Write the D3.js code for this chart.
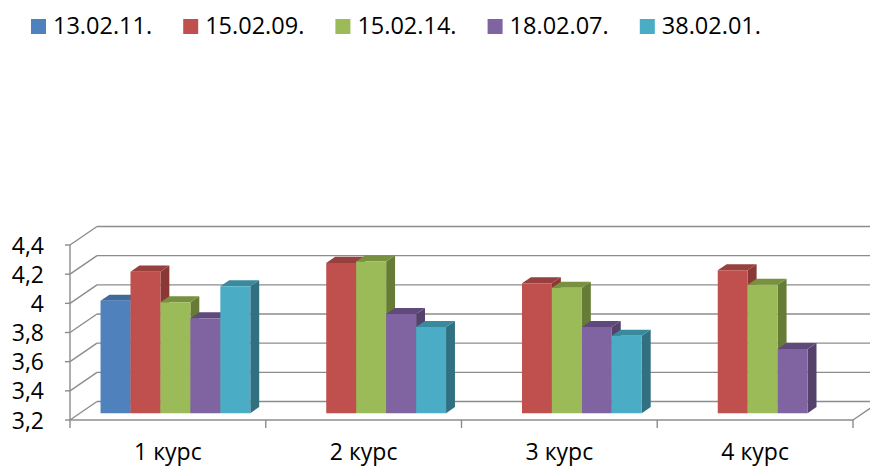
<!DOCTYPE html>
<html><head><meta charset="utf-8">
<script src="https://cdn.jsdelivr.net/npm/d3@7"></script>
<style>html,body{margin:0;padding:0;background:#fff;}svg{display:block;}</style>
</head><body>
<svg id="chart" width="870" height="466"></svg>
<script>
const categories = ["1 курс", "2 курс", "3 курс", "4 курс"];
const seriesNames = ["13.02.11.", "15.02.09.", "15.02.14.", "18.02.07.", "38.02.01."];
const s13_02_11 = [3.97, null, null, null];
const s15_02_09 = [4.17, 4.23, 4.09, 4.18];
const s15_02_14 = [3.96, 4.24, 4.06, 4.08];
const s18_02_07 = [3.85, 3.88, 3.79, 3.64];
const s38_02_01 = [4.07, 3.79, 3.73, null];
const yTicks = [3.2, 3.4, 3.6, 3.8, 4.0, 4.2, 4.4];
const yTickLabels = ["3,2", "3,4", "3,6", "3,8", "4", "4,2", "4,4"];
const seriesValues = [s13_02_11, s15_02_09, s15_02_14, s18_02_07, s38_02_01];

const colors = [
  {front:"#4F81BD", top:"#3F6A9C", side:"#385D8A"},
  {front:"#C0504D", top:"#97403D", side:"#8A3836"},
  {front:"#9BBB59", top:"#77913F", side:"#667C36"},
  {front:"#8064A2", top:"#5F4A7B", side:"#54426C"},
  {front:"#4BACC6", top:"#3A8A9F", side:"#317080"}
];

const svg = d3.select("#chart");
const FONT = "'Open Sans', sans-serif";
const left = 70, right = 853;
const x = d3.scaleBand().domain(categories).range([left, right]);
const y = d3.scaleLinear().domain([3.2, 4.4]).range([420, 245]);
const bw = x.bandwidth();
const xs = d3.scaleBand().domain(seriesNames).range([bw * 0.105, bw * 0.87]);
const DX = 27, DY = 18.5;
const z0 = 0.37, z1 = 0.70;
const P = (xf, v, z) => [xf + z * DX, y(v) - z * DY];
const base = 3.2;
const gridColor = "#8c8c8c";

const walls = svg.append("g");
// side wall and back wall gridlines
yTicks.forEach(t => {
  const a = P(left, t, 0), b = P(left, t, 1), c = P(right, t, 1);
  walls.append("line").attr("x1", a[0]).attr("y1", a[1]).attr("x2", b[0]).attr("y2", b[1])
    .attr("stroke", gridColor).attr("stroke-width", 1.4);
  walls.append("line").attr("x1", b[0]).attr("y1", b[1]).attr("x2", c[0]).attr("y2", c[1])
    .attr("stroke", gridColor).attr("stroke-width", 1.4);
});
// floor right edge
{
  const a = P(right, base, 0), b = P(right, base, 1);
  walls.append("line").attr("x1", a[0]).attr("y1", a[1]).attr("x2", b[0]).attr("y2", b[1])
    .attr("stroke", gridColor).attr("stroke-width", 1.4);
}
// value axis line
walls.append("line").attr("x1", left).attr("x2", left).attr("y1", y(3.2)).attr("y2", y(4.4))
  .attr("stroke", gridColor).attr("stroke-width", 1.4);
// value ticks + labels
yTicks.forEach((t, i) => {
  walls.append("line").attr("x1", left - 5).attr("x2", left).attr("y1", y(t)).attr("y2", y(t))
    .attr("stroke", gridColor).attr("stroke-width", 1.4);
  svg.append("text").attr("x", 44).attr("y", y(t) + 8.5).attr("text-anchor", "end")
    .attr("font-family", FONT).attr("font-size", 23).attr("fill", "#000").text(yTickLabels[i]);
});
// category axis
walls.append("line").attr("x1", left).attr("x2", right).attr("y1", y(base)).attr("y2", y(base))
  .attr("stroke", gridColor).attr("stroke-width", 1.4);
const bounds = categories.map(c => x(c)).concat([right]);
bounds.forEach(bx => {
  walls.append("line").attr("x1", bx).attr("x2", bx).attr("y1", y(base)).attr("y2", y(base) + 8)
    .attr("stroke", gridColor).attr("stroke-width", 1.4);
});
categories.forEach(c => {
  svg.append("text").attr("x", x(c) + bw / 2).attr("y", 460).attr("text-anchor", "middle")
    .attr("font-family", FONT).attr("font-size", 23).attr("fill", "#000").text(c);
});

// bars
const bars = svg.append("g");
const poly = pts => pts.map(p => p.join(",")).join(" ");
categories.forEach((c, ci) => {
  seriesNames.forEach((s, si) => {
    const v = seriesValues[si][ci];
    if (v == null) return;
    const xf0 = x(c) + xs(s), xf1 = xf0 + xs.bandwidth();
    const col = colors[si];
    bars.append("polygon").attr("points", poly([P(xf1, base, z0), P(xf1, base, z1), P(xf1, v, z1), P(xf1, v, z0)]))
      .attr("fill", col.side);
    bars.append("polygon").attr("points", poly([P(xf0, v, z0), P(xf1, v, z0), P(xf1, v, z1), P(xf0, v, z1)]))
      .attr("fill", col.top);
    bars.append("polygon").attr("points", poly([P(xf0, base, z0), P(xf1, base, z0), P(xf1, v, z0), P(xf0, v, z0)]))
      .attr("fill", col.front);
  });
});

// legend
const legend = svg.append("g");
seriesNames.forEach((s, i) => {
  const lx = 31 + i * 152.2;
  legend.append("rect").attr("x", lx).attr("y", 19).attr("width", 15).attr("height", 15).attr("fill", colors[i].front);
  legend.append("text").attr("x", lx + 22).attr("y", 34).attr("font-family", FONT).attr("font-size", 23.5)
    .attr("fill", "#000").text(s);
});
</script>
</body></html>
